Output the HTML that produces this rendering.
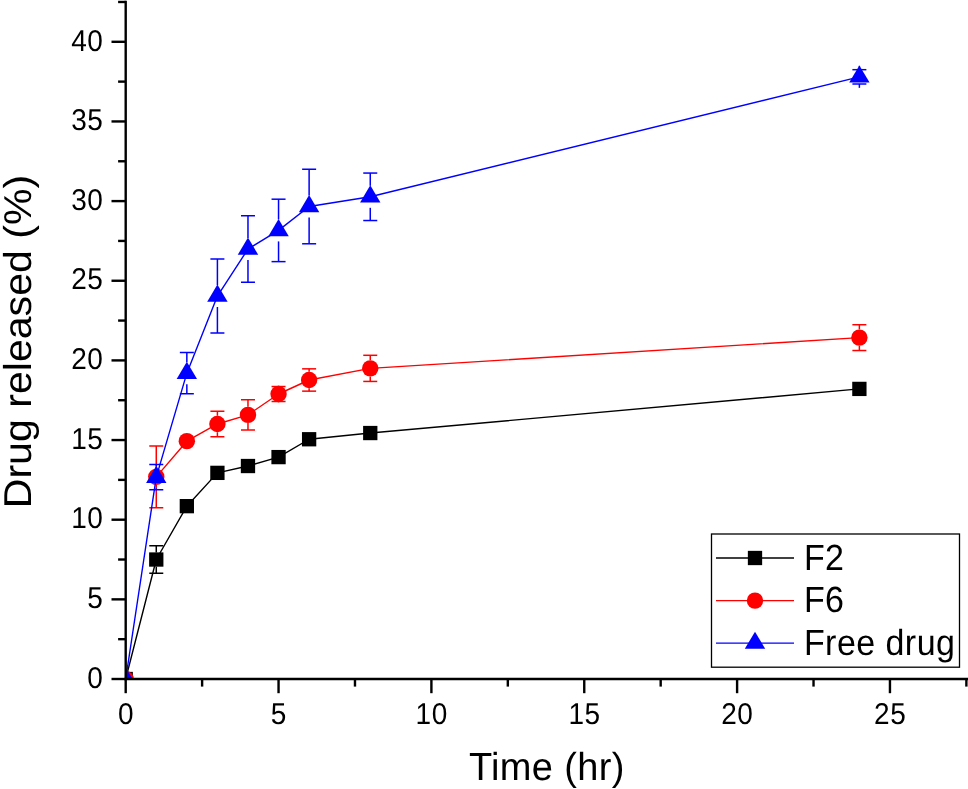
<!DOCTYPE html>
<html><head><meta charset="utf-8"><title>Drug release</title>
<style>html,body{margin:0;padding:0;background:#fff;width:968px;height:789px;overflow:hidden;font-family:"Liberation Sans",sans-serif;}svg{display:block;will-change:transform}</style>
</head><body>
<svg width="968" height="789" viewBox="0 0 968 789" font-family="Liberation Sans, sans-serif" fill="#000" text-rendering="geometricPrecision">
<defs><clipPath id="pc"><rect x="125.7" y="0" width="842.3" height="679.0"/></clipPath></defs>
<rect width="968" height="789" fill="#fff"/>
<g clip-path="url(#pc)">
<polyline points="125.70,679.00 156.27,559.52 186.84,506.16 217.41,472.87 247.98,466.02 278.55,457.10 309.12,439.25 370.26,433.04 859.38,388.91" fill="none" stroke="#000" stroke-width="1.4" stroke-linejoin="round"/><g stroke="#000" stroke-width="1.5" fill="none"><line x1="149.27" y1="545.83" x2="163.27" y2="545.83"/><line x1="149.27" y1="573.22" x2="163.27" y2="573.22"/><line x1="156.27" y1="545.83" x2="156.27" y2="552.38"/><line x1="156.27" y1="573.22" x2="156.27" y2="566.67"/></g><rect x="118.55" y="671.85" width="14.30" height="14.30" fill="#000"/><rect x="149.12" y="552.38" width="14.30" height="14.30" fill="#000"/><rect x="179.69" y="499.01" width="14.30" height="14.30" fill="#000"/><rect x="210.26" y="465.72" width="14.30" height="14.30" fill="#000"/><rect x="240.83" y="458.87" width="14.30" height="14.30" fill="#000"/><rect x="271.40" y="449.95" width="14.30" height="14.30" fill="#000"/><rect x="301.97" y="432.10" width="14.30" height="14.30" fill="#000"/><rect x="363.11" y="425.89" width="14.30" height="14.30" fill="#000"/><rect x="852.23" y="381.76" width="14.30" height="14.30" fill="#000"/>
<polyline points="156.27,476.85 186.84,441.17 217.41,423.96 247.98,414.88 278.55,394.01 309.12,379.99 370.26,368.37 859.38,337.62" fill="none" stroke="#f00" stroke-width="1.4" stroke-linejoin="round"/><g stroke="#f00" stroke-width="1.5" fill="none"><line x1="149.27" y1="445.94" x2="163.27" y2="445.94"/><line x1="149.27" y1="507.75" x2="163.27" y2="507.75"/><line x1="156.27" y1="445.94" x2="156.27" y2="468.65"/><line x1="156.27" y1="507.75" x2="156.27" y2="485.05"/><line x1="210.41" y1="411.22" x2="224.41" y2="411.22"/><line x1="210.41" y1="436.70" x2="224.41" y2="436.70"/><line x1="217.41" y1="411.22" x2="217.41" y2="415.76"/><line x1="217.41" y1="436.70" x2="217.41" y2="432.16"/><line x1="240.98" y1="399.75" x2="254.98" y2="399.75"/><line x1="240.98" y1="430.01" x2="254.98" y2="430.01"/><line x1="247.98" y1="399.75" x2="247.98" y2="406.68"/><line x1="247.98" y1="430.01" x2="247.98" y2="423.08"/><line x1="271.55" y1="386.53" x2="285.55" y2="386.53"/><line x1="271.55" y1="401.50" x2="285.55" y2="401.50"/><line x1="278.55" y1="386.53" x2="278.55" y2="385.81"/><line x1="278.55" y1="401.50" x2="278.55" y2="402.21"/><line x1="302.12" y1="368.84" x2="316.12" y2="368.84"/><line x1="302.12" y1="391.14" x2="316.12" y2="391.14"/><line x1="309.12" y1="368.84" x2="309.12" y2="371.79"/><line x1="309.12" y1="391.14" x2="309.12" y2="388.19"/><line x1="363.26" y1="355.30" x2="377.26" y2="355.30"/><line x1="363.26" y1="381.43" x2="377.26" y2="381.43"/><line x1="370.26" y1="355.30" x2="370.26" y2="360.17"/><line x1="370.26" y1="381.43" x2="370.26" y2="376.56"/><line x1="852.38" y1="324.72" x2="866.38" y2="324.72"/><line x1="852.38" y1="350.52" x2="866.38" y2="350.52"/><line x1="859.38" y1="324.72" x2="859.38" y2="329.42"/><line x1="859.38" y1="350.52" x2="859.38" y2="345.82"/></g><circle cx="125.70" cy="679.00" r="8.2" fill="#f00"/><circle cx="156.27" cy="476.85" r="8.2" fill="#f00"/><circle cx="186.84" cy="441.17" r="8.2" fill="#f00"/><circle cx="217.41" cy="423.96" r="8.2" fill="#f00"/><circle cx="247.98" cy="414.88" r="8.2" fill="#f00"/><circle cx="278.55" cy="394.01" r="8.2" fill="#f00"/><circle cx="309.12" cy="379.99" r="8.2" fill="#f00"/><circle cx="370.26" cy="368.37" r="8.2" fill="#f00"/><circle cx="859.38" cy="337.62" r="8.2" fill="#f00"/>
<polyline points="125.70,679.00 156.27,477.17 186.84,373.14 217.41,296.04 247.98,249.05 278.55,230.41 309.12,206.52 370.26,196.80 859.38,76.85" fill="none" stroke="#00f" stroke-width="1.4" stroke-linejoin="round"/><g stroke="#00f" stroke-width="1.5" fill="none"><line x1="149.27" y1="464.58" x2="163.27" y2="464.58"/><line x1="149.27" y1="489.75" x2="163.27" y2="489.75"/><line x1="156.27" y1="464.58" x2="156.27" y2="466.17"/><line x1="156.27" y1="489.75" x2="156.27" y2="488.17"/><line x1="179.84" y1="352.44" x2="193.84" y2="352.44"/><line x1="179.84" y1="393.85" x2="193.84" y2="393.85"/><line x1="186.84" y1="352.44" x2="186.84" y2="362.14"/><line x1="186.84" y1="393.85" x2="186.84" y2="384.14"/><line x1="210.41" y1="259.09" x2="224.41" y2="259.09"/><line x1="210.41" y1="333.00" x2="224.41" y2="333.00"/><line x1="217.41" y1="259.09" x2="217.41" y2="285.04"/><line x1="217.41" y1="333.00" x2="217.41" y2="307.04"/><line x1="240.98" y1="215.76" x2="254.98" y2="215.76"/><line x1="240.98" y1="282.34" x2="254.98" y2="282.34"/><line x1="247.98" y1="215.76" x2="247.98" y2="238.05"/><line x1="247.98" y1="282.34" x2="247.98" y2="260.05"/><line x1="271.55" y1="199.19" x2="285.55" y2="199.19"/><line x1="271.55" y1="261.63" x2="285.55" y2="261.63"/><line x1="278.55" y1="199.19" x2="278.55" y2="219.41"/><line x1="278.55" y1="261.63" x2="278.55" y2="241.41"/><line x1="302.12" y1="169.24" x2="316.12" y2="169.24"/><line x1="302.12" y1="243.79" x2="316.12" y2="243.79"/><line x1="309.12" y1="169.24" x2="309.12" y2="195.52"/><line x1="309.12" y1="243.79" x2="309.12" y2="217.52"/><line x1="363.26" y1="173.06" x2="377.26" y2="173.06"/><line x1="363.26" y1="220.53" x2="377.26" y2="220.53"/><line x1="370.26" y1="173.06" x2="370.26" y2="185.80"/><line x1="370.26" y1="220.53" x2="370.26" y2="207.80"/><line x1="852.38" y1="69.69" x2="866.38" y2="69.69"/><line x1="852.38" y1="84.00" x2="866.38" y2="84.00"/><line x1="859.38" y1="69.69" x2="859.38" y2="65.85"/><line x1="859.38" y1="84.00" x2="859.38" y2="87.85"/></g><polygon points="125.70,667.53 135.90,684.73 115.50,684.73" fill="#00f"/><polygon points="156.27,465.70 166.47,482.90 146.07,482.90" fill="#00f"/><polygon points="186.84,361.68 197.04,378.88 176.64,378.88" fill="#00f"/><polygon points="217.41,284.58 227.61,301.78 207.21,301.78" fill="#00f"/><polygon points="247.98,237.58 258.18,254.78 237.78,254.78" fill="#00f"/><polygon points="278.55,218.94 288.75,236.14 268.35,236.14" fill="#00f"/><polygon points="309.12,195.05 319.32,212.25 298.92,212.25" fill="#00f"/><polygon points="370.26,185.33 380.46,202.53 360.06,202.53" fill="#00f"/><polygon points="859.38,65.38 869.58,82.58 849.18,82.58" fill="#00f"/>
</g>
<g stroke="#000" stroke-width="2.4" stroke-linecap="butt" fill="none"><line x1="125.7" y1="0.8" x2="125.7" y2="680.15" /><line x1="124.55" y1="679.0" x2="968" y2="679.0" /><line x1="111.50" y1="679.00" x2="125.7" y2="679.00"/><line x1="118.10" y1="639.17" x2="125.7" y2="639.17"/><line x1="111.50" y1="599.35" x2="125.7" y2="599.35"/><line x1="118.10" y1="559.52" x2="125.7" y2="559.52"/><line x1="111.50" y1="519.70" x2="125.7" y2="519.70"/><line x1="118.10" y1="479.88" x2="125.7" y2="479.88"/><line x1="111.50" y1="440.05" x2="125.7" y2="440.05"/><line x1="118.10" y1="400.23" x2="125.7" y2="400.23"/><line x1="111.50" y1="360.40" x2="125.7" y2="360.40"/><line x1="118.10" y1="320.57" x2="125.7" y2="320.57"/><line x1="111.50" y1="280.75" x2="125.7" y2="280.75"/><line x1="118.10" y1="240.93" x2="125.7" y2="240.93"/><line x1="111.50" y1="201.10" x2="125.7" y2="201.10"/><line x1="118.10" y1="161.27" x2="125.7" y2="161.27"/><line x1="111.50" y1="121.45" x2="125.7" y2="121.45"/><line x1="118.10" y1="81.62" x2="125.7" y2="81.62"/><line x1="111.50" y1="41.80" x2="125.7" y2="41.80"/><line x1="118.10" y1="1.98" x2="125.7" y2="1.98"/><line x1="125.70" y1="679.0" x2="125.70" y2="693.20"/><line x1="202.12" y1="679.0" x2="202.12" y2="686.60"/><line x1="278.55" y1="679.0" x2="278.55" y2="693.20"/><line x1="354.98" y1="679.0" x2="354.98" y2="686.60"/><line x1="431.40" y1="679.0" x2="431.40" y2="693.20"/><line x1="507.82" y1="679.0" x2="507.82" y2="686.60"/><line x1="584.25" y1="679.0" x2="584.25" y2="693.20"/><line x1="660.68" y1="679.0" x2="660.68" y2="686.60"/><line x1="737.10" y1="679.0" x2="737.10" y2="693.20"/><line x1="813.53" y1="679.0" x2="813.53" y2="686.60"/><line x1="889.95" y1="679.0" x2="889.95" y2="693.20"/><line x1="966.38" y1="679.0" x2="966.38" y2="686.60"/></g>
<g font-size="28px" letter-spacing="0.5px"><text transform="translate(103.4,687.70) scale(1,1.075)" text-anchor="end">0</text><text transform="translate(103.4,608.05) scale(1,1.075)" text-anchor="end">5</text><text transform="translate(103.4,528.40) scale(1,1.075)" text-anchor="end">10</text><text transform="translate(103.4,448.75) scale(1,1.075)" text-anchor="end">15</text><text transform="translate(103.4,369.10) scale(1,1.075)" text-anchor="end">20</text><text transform="translate(103.4,289.45) scale(1,1.075)" text-anchor="end">25</text><text transform="translate(103.4,209.80) scale(1,1.075)" text-anchor="end">30</text><text transform="translate(103.4,130.15) scale(1,1.075)" text-anchor="end">35</text><text transform="translate(103.4,50.50) scale(1,1.075)" text-anchor="end">40</text><text transform="translate(125.95,723.6) scale(1,1.075)" text-anchor="middle">0</text><text transform="translate(278.80,723.6) scale(1,1.075)" text-anchor="middle">5</text><text transform="translate(431.65,723.6) scale(1,1.075)" text-anchor="middle">10</text><text transform="translate(584.50,723.6) scale(1,1.075)" text-anchor="middle">15</text><text transform="translate(737.35,723.6) scale(1,1.075)" text-anchor="middle">20</text><text transform="translate(890.20,723.6) scale(1,1.075)" text-anchor="middle">25</text></g>
<text transform="translate(468.9,780) scale(1,1.03)" font-size="38px" letter-spacing="0.35px">Time (hr)</text><text transform="translate(31,508.3) rotate(-90) scale(1.096,1.035)" font-size="37.5px">Drug released (%)</text>
<rect x="711.5" y="534" width="248.0" height="133.2" fill="#fff" stroke="#000" stroke-width="1.3"/><line x1="716" y1="558.0" x2="794" y2="558.0" stroke="#000" stroke-width="1.4"/><rect x="747.85" y="550.85" width="14.30" height="14.30" fill="#000"/><text transform="translate(803.9,570.0) scale(1,1.07)" font-size="34px" letter-spacing="0.45px">F2</text><line x1="716" y1="600.6" x2="794" y2="600.6" stroke="#f00" stroke-width="1.4"/><circle cx="755.00" cy="600.60" r="8.2" fill="#f00"/><text transform="translate(803.9,612.4) scale(1,1.07)" font-size="34px" letter-spacing="0.45px">F6</text><line x1="716" y1="643.1" x2="794" y2="643.1" stroke="#00f" stroke-width="1.4"/><polygon points="755.00,631.63 765.20,648.83 744.80,648.83" fill="#00f"/><text transform="translate(803.9,654.9) scale(1,1.07)" font-size="34px" letter-spacing="0.45px">Free drug</text>
</svg>
</body></html>
